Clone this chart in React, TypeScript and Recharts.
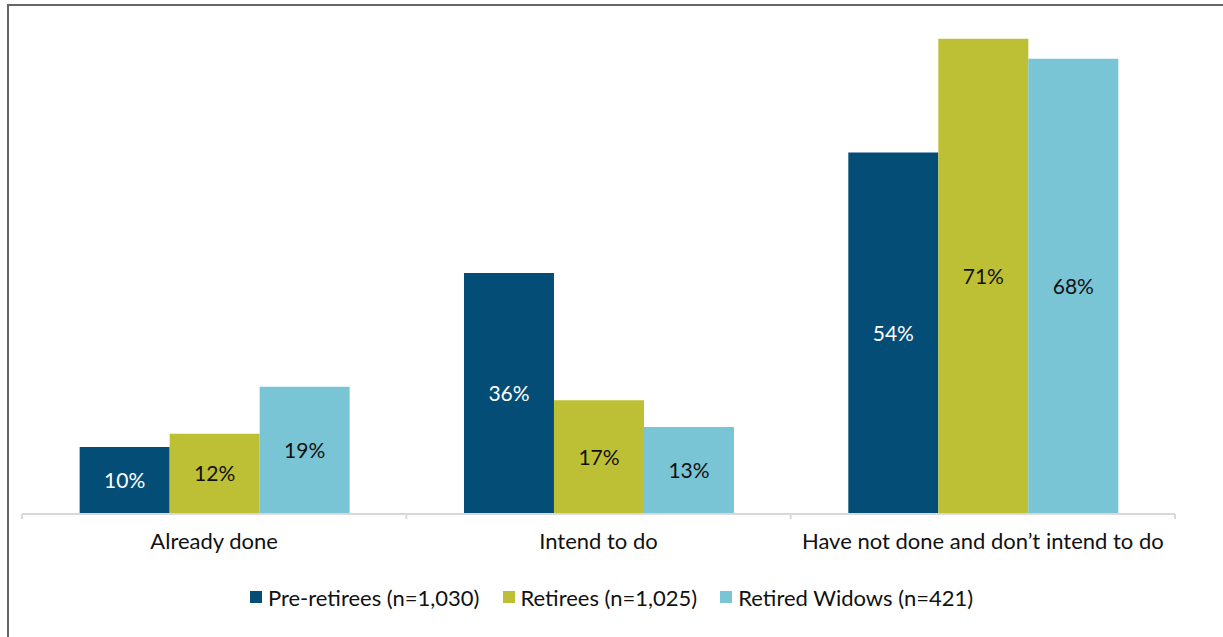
import { Bar, BarChart, LabelList, Legend, XAxis, YAxis } from "recharts";

const categories = ["Already done", "Intend to do", "Have not done and don\u2019t intend to do"];
const preRetirees = [10, 36, 54];
const retirees = [12, 17, 71];
const retiredWidows = [19, 13, 68];

const seriesNames = ["Pre-retirees (n=1,030)", "Retirees (n=1,025)", "Retired Widows (n=421)"];
const seriesColors = ["#034D76", "#BDC035", "#79C4D5"];
const labelColors = ["#FFFFFF", "#111111", "#111111"];

const WIDTH = 1223;
const HEIGHT = 637;
const MARGIN = { top: 12, right: 48, left: 22, bottom: 20 };
const LEGEND_H = 40;
const XAXIS_H = 63;
const PLOT_W = WIDTH - MARGIN.left - MARGIN.right;
const AXIS_Y = HEIGHT - MARGIN.bottom - LEGEND_H - XAXIS_H;
const FONT = "Lato, 'Open Sans', sans-serif";

const data = categories.map((name, i) => ({
  name,
  pre: preRetirees[i],
  ret: retirees[i],
  wid: retiredWidows[i],
}));

function AxisTick(props: any) {
  const { x, payload, index } = props;
  const band = PLOT_W / categories.length;
  const last = index === categories.length - 1;
  return (
    <g>
      <line x1={x - band / 2} y1={AXIS_Y} x2={x - band / 2} y2={AXIS_Y + 5} stroke="#D9D9D9" strokeWidth={2} />
      {last ? (
        <line x1={x + band / 2} y1={AXIS_Y} x2={x + band / 2} y2={AXIS_Y + 5} stroke="#D9D9D9" strokeWidth={2} />
      ) : null}
      <text x={x} y={AXIS_Y + 35} textAnchor="middle" fill="#111" fontSize={22} fontFamily={FONT}>
        {payload.value}
      </text>
    </g>
  );
}

function LegendBox() {
  return (
    <div
      style={{
        display: "flex",
        justifyContent: "center",
        alignItems: "center",
        height: LEGEND_H,
        fontFamily: FONT,
        fontSize: 22,
        color: "#111",
        gap: 23,
      }}
    >
      {seriesNames.map((name, i) => (
        <div key={name} style={{ display: "flex", alignItems: "center", gap: 6 }}>
          <span style={{ width: 12, height: 12, background: seriesColors[i], display: "inline-block" }} />
          <span>{name}</span>
        </div>
      ))}
    </div>
  );
}

export default function App() {
  const keys = ["pre", "ret", "wid"];
  return (
    <div style={{ position: "relative", width: WIDTH, height: HEIGHT, background: "#fff" }}>
      <style>{"body { margin: 0; }"}</style>
      <BarChart
        width={WIDTH}
        height={HEIGHT}
        data={data}
        margin={MARGIN}
        barGap={0}
        barCategoryGap="15%"
      >
        <XAxis
          dataKey="name"
          height={XAXIS_H}
          axisLine={{ stroke: "#D9D9D9", strokeWidth: 2 }}
          tickLine={false}
          tick={<AxisTick />}
          interval={0}
        />
        <YAxis hide domain={[0, 75]} />
        <Legend
          verticalAlign="bottom"
          height={LEGEND_H}
          wrapperStyle={{ left: 0, width: WIDTH }}
          content={() => <LegendBox />}
        />
        {keys.map((key, i) => (
          <Bar key={key} dataKey={key} name={seriesNames[i]} fill={seriesColors[i]} isAnimationActive={false}>
            <LabelList
              dataKey={key}
              position="center"
              formatter={(v: any) => `${v}%`}
              fill={labelColors[i]}
              fontSize={21}
              fontFamily={FONT}
            />
          </Bar>
        ))}
      </BarChart>
      <div
        style={{
          position: "absolute",
          left: 7,
          top: 4,
          width: WIDTH - 7,
          height: HEIGHT - 4,
          borderTop: "2px solid #666",
          borderLeft: "2px solid #666",
          boxSizing: "border-box",
          pointerEvents: "none",
        }}
      />
    </div>
  );
}
